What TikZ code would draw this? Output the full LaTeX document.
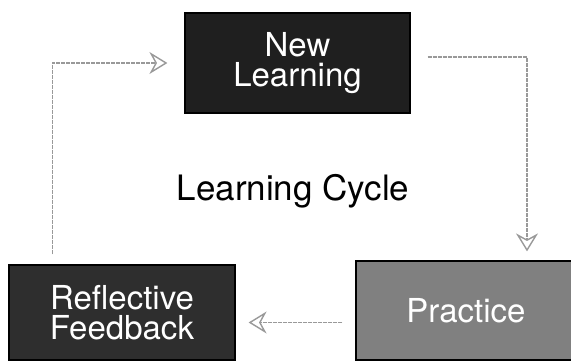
\documentclass[tikz,border=0pt]{standalone}
\usepackage{fontspec}
\setmainfont{TeX Gyre Heros}
\usetikzlibrary{arrows.meta}

\begin{document}
\begin{tikzpicture}[x=1pt,y=1pt,
    box/.style={draw=black, rectangle, line width=1.2pt, text=white,
        align=center, font=\fontsize{33}{30}\selectfont},
    flow/.style={draw=black!40, line width=1.4pt,
        dash pattern=on 4pt off 1pt,
        -{Stealth[open, length=18pt, width=22pt, inset=6pt, line width=1.4pt]}}]
    \useasboundingbox (0,0) rectangle (571,360);
    \clip (0,0) rectangle (571,360);

        \node[box,
        fill=black!88,
        minimum width = 225pt, 
        minimum height = 100pt
        ](nl) at (297.5,297) {New\\Learning};

        \node[box,
        fill=black!50,
        minimum width = 220pt, 
        minimum height = 99pt
        ](pr) at (466,49.5) {Practice};

        \node[box,
        fill=black!82,
        minimum width = 226pt, 
        minimum height = 95pt
        ](rf) at (122,47.5) {Reflective\\Feedback};

        \node[draw=none,
        anchor=base,
        font=\fontsize{35}{35}\selectfont
        ](lc) at (293,160) {Learning Cycle};

    \draw[flow] ([xshift=44pt,yshift=10pt]rf.north west) |- ([xshift=-17pt]nl.west);
    \draw[flow] ([xshift=17pt,yshift=6pt]nl.east) -| ([xshift=61pt,yshift=9pt]pr.north);
    \draw[flow] ([xshift=-13pt,yshift=-12pt]pr.west) -- ([xshift=13pt,yshift=-10pt]rf.east);

    \end{tikzpicture}
\end{document}
